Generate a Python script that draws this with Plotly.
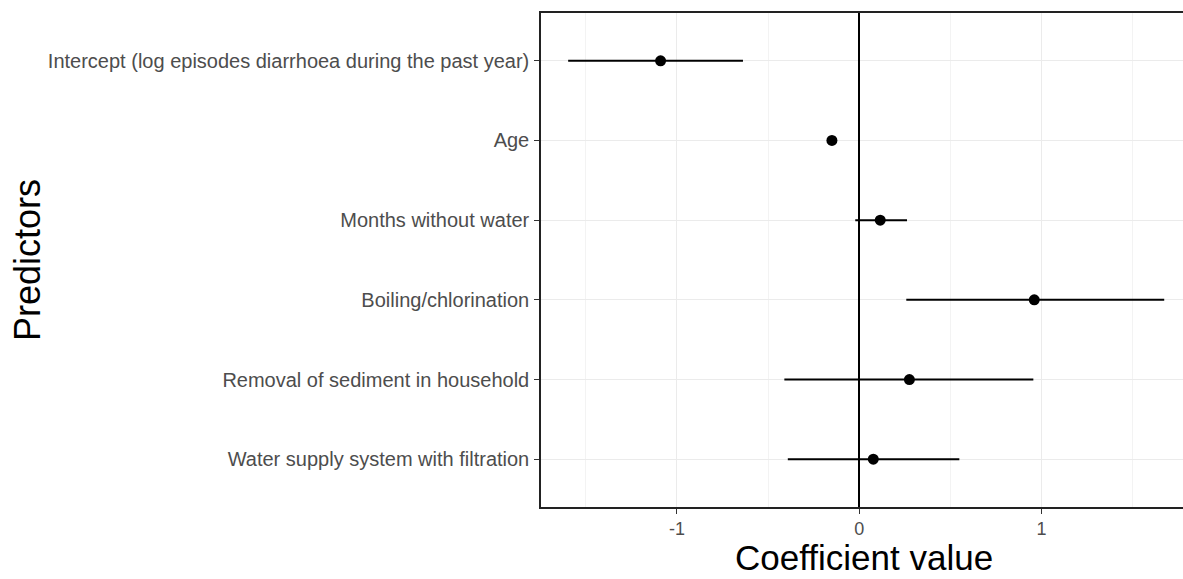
import plotly.graph_objects as go

# Model predictors (top to bottom) with coefficient estimates and interval bounds
predictors = [
    "Intercept (log episodes diarrhoea during the past year)",
    "Age",
    "Months without water",
    "Boiling/chlorination",
    "Removal of sediment in household",
    "Water supply system with filtration",
]
estimate = [-1.090, -0.150, 0.115, 0.960, 0.275, 0.077]
lower = [-1.597, -0.170, -0.022, 0.258, -0.411, -0.392]
upper = [-0.638, -0.130, 0.262, 1.673, 0.955, 0.549]

x_ticks = [-1, 0, 1]
x_tick_labels = ["-1", "0", "1"]

# vertical positions: first predictor at the top
ypos = list(range(len(predictors) - 1, -1, -1))

err_plus = [u - e for u, e in zip(upper, estimate)]
err_minus = [e - l for e, l in zip(estimate, lower)]

FONT = "Liberation Sans, Arial, sans-serif"

fig = go.Figure()
fig.add_trace(
    go.Scatter(
        x=estimate,
        y=ypos,
        mode="markers",
        marker=dict(color="black", size=11),
        error_x=dict(
            type="data",
            symmetric=False,
            array=err_plus,
            arrayminus=err_minus,
            width=0,
            thickness=2,
            color="black",
        ),
        showlegend=False,
        hoverinfo="skip",
    )
)

fig.update_layout(
    width=1183,
    height=579,
    margin=dict(l=541, r=0, t=13, b=72),
    paper_bgcolor="white",
    plot_bgcolor="white",
    font=dict(family=FONT),
    xaxis=dict(
        range=[-1.746, 1.776],
        tickvals=x_ticks,
        ticktext=x_tick_labels,
        tickfont=dict(size=18, color="#4d4d4d", family=FONT),
        ticks="outside",
        ticklen=5,
        tickwidth=1.2,
        tickcolor="#333333",
        showline=True,
        linecolor="#222222",
        linewidth=1.5,
        mirror=True,
        showgrid=True,
        gridcolor="#ebebeb",
        gridwidth=1.1,
        minor=dict(dtick=0.5, tick0=0, showgrid=True, gridcolor="#f3f3f3", gridwidth=0.6),
        zeroline=True,
        zerolinecolor="black",
        zerolinewidth=1.6,
        ticklabelstandoff=0,
    ),
    yaxis=dict(
        range=[-0.6, len(predictors) - 0.4],
        tickvals=ypos,
        ticktext=predictors,
        tickfont=dict(size=20, color="#4d4d4d", family=FONT),
        ticks="outside",
        ticklen=5,
        tickwidth=1.2,
        tickcolor="#333333",
        showline=True,
        linecolor="#222222",
        linewidth=1.5,
        mirror=False,
        showgrid=True,
        gridcolor="#ebebeb",
        gridwidth=1.1,
        zeroline=False,
        ticklabelstandoff=1,
    ),
    annotations=[
        dict(
            text="Coefficient value",
            xref="paper", yref="paper",
            x=(864 - 541) / 642, y=(507 - 557) / 494,
            xanchor="center", yanchor="middle",
            showarrow=False,
            font=dict(size=35, color="black", family=FONT),
        ),
        dict(
            text="Predictors",
            xref="paper", yref="paper",
            x=(27 - 541) / 642, y=0.5,
            xanchor="center", yanchor="middle",
            textangle=-90,
            showarrow=False,
            font=dict(size=36, color="black", family=FONT),
        ),
    ],
)

fig.write_html("out.html")
